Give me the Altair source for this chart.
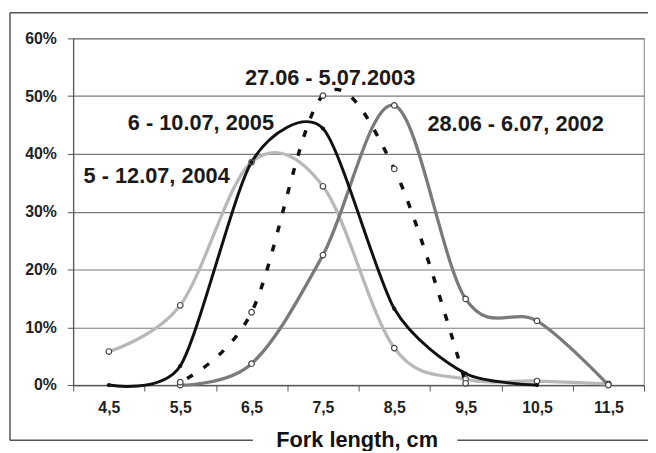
import altair as alt
import pandas as pd

# ---- data (percent of catch by fork length class) ----
x_2004 = [4.5, 5.5, 6.5, 7.5, 8.5, 9.5, 10.5, 11.5]
y_2004 = [5.8, 13.8, 38.6, 34.4, 6.4, 1.0, 0.7, 0.2]

x_2005 = [4.5, 5.5, 6.5, 7.5, 8.5, 9.5, 10.5]
y_2005 = [0.0, 3.3, 38.6, 44.4, 13.2, 2.0, 0.0]

x_2003 = [5.5, 6.5, 7.5, 8.5, 9.5]
y_2003 = [0.5, 12.6, 50.1, 37.4, 0.3]

x_2002 = [5.5, 6.5, 7.5, 8.5, 9.5, 10.5, 11.5]
y_2002 = [0.0, 3.7, 22.5, 48.4, 14.9, 11.1, 0.0]

label_texts = ["27.06 - 5.07.2003", "6 - 10.07, 2005", "5 - 12.07, 2004", "28.06 - 6.07, 2002"]
label_x = [7.6, 5.79, 5.17, 10.2]
label_y = [52.0, 44.1, 34.9, 43.9]

x_axis_values = [4, 4.5, 5, 5.5, 6, 6.5, 7, 7.5, 8, 8.5, 9, 9.5, 10, 10.5, 11, 11.5, 12]
y_axis_values = [0, 0.1, 0.2, 0.3, 0.4, 0.5, 0.6]

FONT = "Liberation Sans"

def frame(xs, ys):
    return pd.DataFrame({"x": xs, "y": [v / 100.0 for v in ys]})

x_scale = alt.Scale(domain=[4, 12], nice=False, zero=False)
y_scale = alt.Scale(domain=[0, 0.6], nice=False)

x_axis = alt.Axis(
    values=x_axis_values,
    labelExpr="datum.value % 1 === 0 ? '' : replace(format(datum.value, '.1f'), '.', ',')",
    tickOpacity={"condition": {"test": "datum.value % 1 === 0", "value": 1}, "value": 0},
    tickSize=6, tickColor="#555", domainColor="#555", domainWidth=1.2,
    labelFont=FONT, labelFontWeight="bold", labelFontSize=16, labelColor="#222",
    labelPadding=9, labelOverlap=False, grid=False,
    title="Fork length, cm", titleFont=FONT, titleFontSize=22, titleFontWeight="bold",
    titleColor="#111", titleX=287, titleY=62, titleBaseline="alphabetic", titleAlign="center",
)
y_axis = alt.Axis(
    values=y_axis_values, format=".0%",
    tickSize=6, tickColor="#555", domainColor="#555", domainWidth=1.2,
    grid=True, gridColor="#7a7a7a", gridWidth=1.2,
    labelFont=FONT, labelFontWeight="bold", labelFontSize=16, labelColor="#222",
    labelPadding=11, title=None,
)

def enc(ch):
    return ch.encode(
        x=alt.X("x:Q", scale=x_scale, axis=x_axis),
        y=alt.Y("y:Q", scale=y_scale, axis=y_axis),
    )

d2004 = frame(x_2004, y_2004)
d2005 = frame(x_2005, y_2005)
d2003 = frame(x_2003, y_2003)
d2002 = frame(x_2002, y_2002)

l2004 = enc(alt.Chart(d2004).mark_line(color="#b8b8b8", strokeWidth=3.3,
                                       interpolate="cardinal", tension=0))
l2002 = enc(alt.Chart(d2002).mark_line(color="#7a7a7a", strokeWidth=3.3,
                                       interpolate="cardinal", tension=0))
l2003 = enc(alt.Chart(d2003).mark_line(color="#111111", strokeWidth=3.5, strokeDash=[7, 13],
                                       strokeDashOffset=12, interpolate="cardinal", tension=0))
l2005 = enc(alt.Chart(d2005).mark_line(color="#111111", strokeWidth=3,
                                       interpolate="cardinal", tension=0.25))

circ = dict(shape="circle", filled=True, fill="white", stroke="#444", strokeWidth=1.2, size=32, opacity=1)
p2004 = enc(alt.Chart(d2004).mark_point(**circ))
p2002 = enc(alt.Chart(d2002).mark_point(**circ))
p2003 = enc(alt.Chart(d2003).mark_point(**circ))
p2005 = enc(alt.Chart(d2005).mark_point(shape="circle", filled=True, color="#111", size=18, opacity=1))

labels_df = pd.DataFrame({"t": label_texts, "x": label_x, "y": [v / 100.0 for v in label_y]})
labels = alt.Chart(labels_df).mark_text(
    font=FONT, fontSize=22, fontWeight="bold", color="#1a1a1a", align="center", baseline="alphabetic"
).encode(
    x=alt.X("x:Q", scale=x_scale, axis=x_axis),
    y=alt.Y("y:Q", scale=y_scale, axis=y_axis),
    text="t:N",
)

# outer chart frame (decoration)
one = pd.DataFrame({"a": [0]})
fr = dict(color="#555", strokeWidth=1.5)
f_top = alt.Chart(one).mark_rule(**fr).encode(x=alt.value(-64), x2=alt.value(600), y=alt.value(-26))
f_left = alt.Chart(one).mark_rule(**fr).encode(x=alt.value(-64), y=alt.value(-26), y2=alt.value(407))
f_bot1 = alt.Chart(one).mark_rule(**fr).encode(x=alt.value(-64), x2=alt.value(182), y=alt.value(407))
f_bot2 = alt.Chart(one).mark_rule(**fr).encode(x=alt.value(389), x2=alt.value(600), y=alt.value(407))

chart = alt.layer(
    f_top, f_left, f_bot1, f_bot2,
    l2004, l2002, l2003, l2005,
    p2004, p2002, p2003, p2005,
    labels,
).properties(
    width=578, height=351,
    padding={"left": 66, "top": 28, "right": 4, "bottom": 64},
    autosize=alt.AutoSizeParams(type="none"),
    background="white",
).configure_view(stroke="#9a9a9a", strokeWidth=1.2)

chart.save("out.html", embed_options={"renderer": "svg", "actions": False})
